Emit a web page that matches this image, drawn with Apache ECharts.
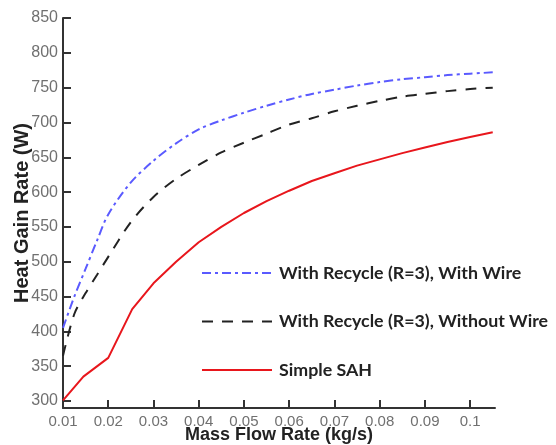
<!DOCTYPE html>
<html>
<head>
<meta charset="utf-8">
<script src="https://cdn.jsdelivr.net/npm/echarts@6/dist/echarts.min.js"></script>
<style>html,body{margin:0;padding:0;background:#fff}#c{width:556px;height:445px}</style>
</head>
<body>
<div id="c"></div>
<script>
var xTicks = [0.01, 0.02, 0.03, 0.04, 0.05, 0.06, 0.07, 0.08, 0.09, 0.1];
var yTicks = [300, 350, 400, 450, 500, 550, 600, 650, 700, 750, 800, 850];

var withWire = [[0.01,405],[0.0125,450],[0.015,490],[0.0175,530],[0.02,568],[0.025,614],[0.03,645],[0.035,670],[0.04,690],[0.045,703],[0.05,714],[0.055,724],[0.06,733],[0.065,741],[0.07,747],[0.075,753],[0.08,758],[0.085,762],[0.09,765],[0.095,768],[0.1,770],[0.105,772]];
var withoutWire = [[0.01,365],[0.0125,425],[0.015,455],[0.0175,481],[0.02,507],[0.025,557],[0.03,593],[0.035,619],[0.04,639],[0.045,657],[0.05,671],[0.055,684],[0.06,697],[0.065,706],[0.07,716],[0.075,724],[0.08,731],[0.085,737],[0.09,741],[0.095,745],[0.1,748],[0.105,750]];
var simpleSAH = [[0.01,301],[0.0145,335],[0.02,362],[0.0253,432],[0.03,469],[0.035,500],[0.04,528],[0.045,550],[0.05,570],[0.055,587],[0.06,602],[0.065,616],[0.07,627],[0.075,638],[0.08,647],[0.085,656],[0.09,664],[0.095,672],[0.1,679],[0.105,686]];

var names = ['With Recycle (R=3), With Wire', 'With Recycle (R=3), Without Wire', 'Simple SAH'];

var chart = echarts.init(document.getElementById('c'));
var axisLineStyle = {color: '#333', width: 2};
chart.setOption({
  animation: false,
  grid: {left: 63, right: 61, top: 18, bottom: 37, outerBoundsMode: 'none', containLabel: false},
  legend: {
    orient: 'vertical',
    left: 196,
    top: 258,
    itemWidth: 70,
    itemHeight: 14,
    itemGap: 28.5,
    itemStyle: {opacity: 0},
    textStyle: {fontFamily: 'Lato', fontWeight: 'bold', fontSize: 17.8, color: '#222', lineHeight: 20, padding: [0,0,0,2]},
    data: names
  },
  xAxis: {
    type: 'value', min: 0.01, max: 0.1055,
    name: 'Mass Flow Rate (kg/s)', nameLocation: 'middle', nameGap: 18, nameMoveOverlap: false,
    nameTextStyle: {fontFamily: 'Liberation Sans', fontWeight: 'bold', fontSize: 18, color: '#222'},
    axisLine: {lineStyle: axisLineStyle},
    axisTick: {inside: true, length: 8, lineStyle: {color: '#333', width: 2}, customValues: xTicks},
    axisLabel: {customValues: xTicks, fontFamily: 'Liberation Sans', fontSize: 15, color: '#707070', margin: 6},
    splitLine: {show: false}
  },
  yAxis: {
    type: 'value', min: 290, max: 850,
    name: 'Heat Gain Rate (W)', nameLocation: 'middle', nameGap: 31, nameRotate: 90, nameMoveOverlap: false,
    nameTextStyle: {fontFamily: 'Liberation Sans', fontWeight: 'bold', fontSize: 20, color: '#222'},
    axisLine: {show: true, lineStyle: axisLineStyle},
    axisTick: {show: true, inside: true, length: 8, lineStyle: {color: '#333', width: 2}, customValues: yTicks},
    axisLabel: {customValues: yTicks, fontFamily: 'Liberation Sans', fontSize: 16, color: '#707070', margin: 5},
    splitLine: {show: false}
  },
  series: [
    {name: names[0], type: 'line', data: withWire, symbol: 'none', smooth: 0.3,
     lineStyle: {color: '#5a5aff', width: 2, type: [9, 4, 3, 4]}, itemStyle: {color: '#5a5aff'}},
    {name: names[1], type: 'line', data: withoutWire, symbol: 'none', smooth: 0.3,
     lineStyle: {color: '#222', width: 2, type: [11, 9]}, itemStyle: {color: '#222'}},
    {name: names[2], type: 'line', data: simpleSAH, symbol: 'none', smooth: false,
     lineStyle: {color: '#e8161c', width: 2}, itemStyle: {color: '#e8161c'}}
  ]
});
</script>
</body>
</html>
